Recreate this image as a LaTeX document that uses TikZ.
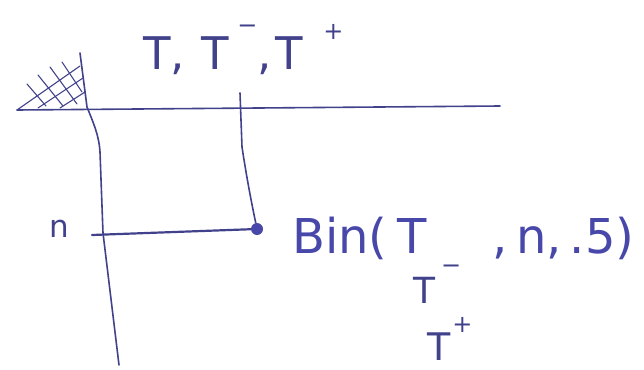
\documentclass[tikz,border=0pt]{standalone}
\usepackage{fontspec}
\setmainfont{DejaVu Sans}
\definecolor{ink}{RGB}{66,66,140}
\definecolor{inkb}{RGB}{72,72,170}
\newcommand{\supm}[1]{\raisebox{#1}{\fontsize{24}{24}\selectfont −}}
\newcommand{\supp}[1]{\raisebox{#1}{\fontsize{24}{24}\selectfont +}}
\begin{document}
\begin{tikzpicture}[x=1pt,y=-1pt,
  pen/.style={draw=ink,line width=1.6pt,line cap=round,line join=round},
  lbl/.style={text=ink,inner sep=0pt},
  hatch/.style={draw=ink,line width=1.1pt,line cap=round}]
\useasboundingbox (0,0) rectangle (644,369);
\fill[white] (0,0) rectangle (644,369);
% axes
\coordinate (hl) at (17,110);
\coordinate (hr) at (500,106);
\coordinate (vt) at (80,53);
\coordinate (vb) at (119,365);
\draw[pen] (hl) -- (hr);
\draw[pen] (vt) -- (87,107) .. controls (93,122) and (99,135) .. (100,152) -- (103,233) -- (vb);
% hatching of the corner
\draw[hatch] (17,110) -- (80,66);
\draw[hatch] (38,108) -- (83,78);
\draw[hatch] (60,108) -- (85,92);
\draw[hatch] (27,84) -- (46,106);
\draw[hatch] (38,75) -- (63,106);
\draw[hatch] (50,67) -- (77,104);
\draw[hatch] (62,62) -- (82,92);
% labels
\node[lbl,anchor=base west,font=\fontsize{45}{48}\selectfont] (top) at (143,70)
  {T,\hspace{17pt}T\hspace{8pt}\supm{36pt},\hspace{4pt}T\hspace{20pt}\supp{30pt}};
\node[lbl,anchor=base west,font=\fontsize{31}{33}\selectfont] (n) at (49,237) {n};
\coordinate (colTop) at (240,93);
\node[circle,fill=inkb,inner sep=0pt,minimum size=12pt] (dot) at (257,229) {};
\coordinate (rowStart) at (92,235);
\draw[pen] (colTop) -- (242,147) .. controls (247,180) and (252,205) .. (dot);
\draw[pen,line width=2.2pt] (rowStart) -- (dot);
\node[lbl,text=inkb,anchor=base west,font=\fontsize{48}{50}\selectfont] (bin) at (292,253)
  {Bin(\hspace{10pt}T\hspace{66pt},\,n,\,.5)};
\node[lbl,anchor=base west,font=\fontsize{36}{38}\selectfont] (tm) at (413,303)
  {T\hspace{6pt}\supm{30pt}};
\node[lbl,anchor=base west,font=\fontsize{38}{40}\selectfont] (tp) at (427,360)
  {T\hspace{2pt}\supp{28pt}};
\end{tikzpicture}
\end{document}
